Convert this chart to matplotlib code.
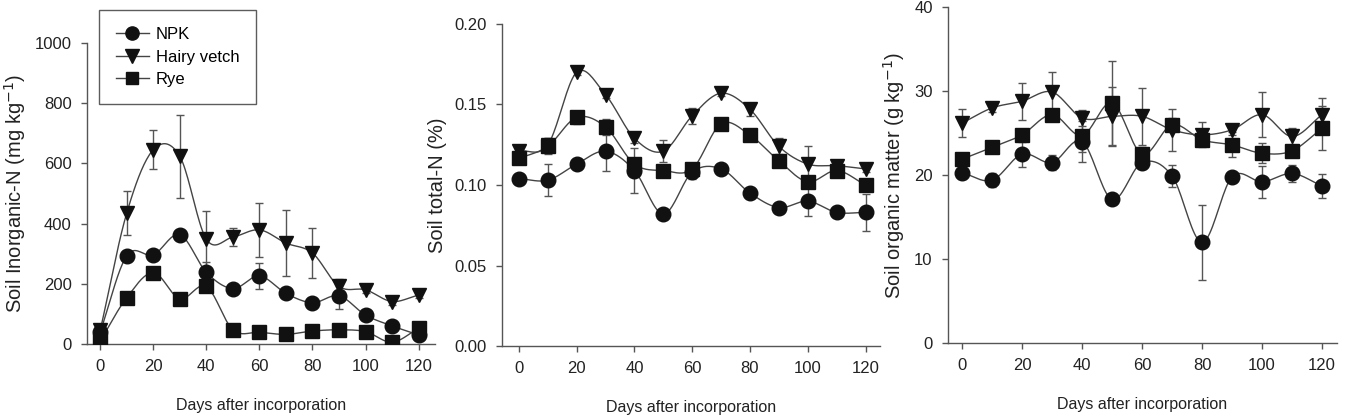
import matplotlib
matplotlib.use("Agg")
import matplotlib.pyplot as plt
import numpy as np

plt.rcParams['font.family'] = ['Liberation Sans', 'DejaVu Sans']

days = [0, 10, 20, 30, 40, 50, 60, 70, 80, 90, 100, 110, 120]
labels = ['NPK', 'Hairy vetch', 'Rye']

# soil inorganic-N (mg kg-1)
inorg_npk = [40, 293, 296, 363, 238, 184, 226, 168, 137, 160, 96, 60, 30]
inorg_npk_err = [10, 15, 15, 15, 35, 12, 43, 15, 12, 45, 12, 10, 8]
inorg_hv = [45, 435, 645, 623, 348, 355, 379, 335, 302, 191, 180, 141, 163]
inorg_hv_err = [10, 72, 65, 138, 95, 30, 90, 110, 83, 25, 10, 10, 10]
inorg_rye = [10, 154, 237, 150, 191, 47, 39, 32, 43, 47, 41, 6, 52]
inorg_rye_err = [5, 10, 15, 10, 12, 8, 6, 6, 6, 6, 6, 5, 6]

# soil total-N (%)
totn_npk = [0.104, 0.103, 0.113, 0.121, 0.109, 0.082, 0.108, 0.110, 0.095, 0.086, 0.090, 0.083, 0.083]
totn_npk_err = [0.003, 0.010, 0.003, 0.0125, 0.014, 0.002, 0.004, 0.002, 0.002, 0.002, 0.009, 0.002, 0.0115]
totn_hv = [0.121, 0.125, 0.170, 0.156, 0.129, 0.121, 0.143, 0.157, 0.147, 0.124, 0.113, 0.112, 0.110]
totn_hv_err = [0.004, 0.004, 0.002, 0.002, 0.003, 0.007, 0.005, 0.002, 0.004, 0.005, 0.011, 0.002, 0.002]
totn_rye = [0.1165, 0.124, 0.142, 0.136, 0.113, 0.109, 0.110, 0.138, 0.131, 0.115, 0.102, 0.109, 0.100]
totn_rye_err = [0.003, 0.005, 0.004, 0.005, 0.003, 0.002, 0.003, 0.002, 0.003, 0.003, 0.003, 0.002, 0.003]

# soil organic matter (g kg-1)
som_npk = [20.3, 19.4, 22.5, 21.5, 24.0, 17.1, 21.5, 19.9, 12.0, 19.8, 19.2, 20.2, 18.7]
som_npk_err = [0.8, 0.8, 1.5, 0.9, 2.4, 0.4, 0.8, 1.3, 4.5, 0.6, 1.9, 1.0, 1.4]
som_hv = [26.2, 28.0, 28.8, 29.9, 26.8, 27.0, 27.0, 25.4, 24.8, 25.4, 27.2, 24.6, 27.2]
som_hv_err = [1.7, 0.5, 2.2, 2.4, 1.0, 3.5, 3.4, 2.5, 1.5, 0.6, 2.7, 1.0, 2.0]
som_rye = [21.9, 23.3, 24.8, 27.2, 24.7, 28.6, 22.5, 26.0, 24.2, 23.6, 22.6, 22.9, 25.6]
som_rye_err = [0.6, 0.5, 0.6, 0.6, 2.0, 5.0, 0.8, 0.8, 0.6, 1.5, 1.2, 0.6, 2.6]


def smooth(x, y, n=20):
    # catmull-rom style curve through the points, just for the line shape
    x = np.asarray(x, float)
    y = np.asarray(y, float)
    m = np.gradient(y, x)
    xs, ys = [], []
    for i in range(len(x) - 1):
        h = x[i + 1] - x[i]
        t = np.linspace(0, 1, n, endpoint=False)
        h00 = 2 * t**3 - 3 * t**2 + 1
        h10 = t**3 - 2 * t**2 + t
        h01 = -2 * t**3 + 3 * t**2
        h11 = t**3 - t**2
        xs.append(x[i] + t * h)
        ys.append(h00 * y[i] + h10 * h * m[i] + h01 * y[i + 1] + h11 * h * m[i + 1])
    xs.append([x[-1]])
    ys.append([y[-1]])
    return np.concatenate(xs), np.concatenate(ys)


markers = ['o', 'v', 's']
msizes = [10.5, 10.5, 9.5]
lc = '#444444'
mc = '#111111'
tc = '#222222'

fig = plt.figure(figsize=(13.63, 4.2), dpi=100)
ax1 = fig.add_axes([0.0638, 0.181, 0.255, 0.717])
ax2 = fig.add_axes([0.368, 0.176, 0.2776, 0.767])
ax3 = fig.add_axes([0.6955, 0.183, 0.2855, 0.800])

panels = [
    (ax1, [(inorg_npk, inorg_npk_err), (inorg_hv, inorg_hv_err), (inorg_rye, inorg_rye_err)],
     (0, 1000), [0, 200, 400, 600, 800, 1000], 'Soil Inorganic-N (mg kg$^{-1}$)', (-5, 126), None),
    (ax2, [(totn_npk, totn_npk_err), (totn_hv, totn_hv_err), (totn_rye, totn_rye_err)],
     (0, 0.20), [0, 0.05, 0.10, 0.15, 0.20], 'Soil total-N (%)', (-6, 125), '%.2f'),
    (ax3, [(som_npk, som_npk_err), (som_hv, som_hv_err), (som_rye, som_rye_err)],
     (0, 40), [0, 10, 20, 30, 40], 'Soil organic matter (g kg$^{-1}$)', (-4.7, 125), None),
]

for ax, series, ylim, yticks, ylab, xlim, fmt in panels:
    for k, (vals, errs) in enumerate(series):
        ax.errorbar(days, vals, yerr=errs, fmt='none', ecolor='#555555', elinewidth=1,
                    capsize=3, capthick=1, zorder=2)
        sx, sy = smooth(days, vals)
        ax.plot(sx, sy, color=lc, lw=1, zorder=3)
        ax.plot(days, vals, linestyle='none', marker=markers[k], markersize=msizes[k],
                color=mc, zorder=4)
    ax.set_xlim(*xlim)
    ax.set_ylim(*ylim)
    ax.set_xticks([0, 20, 40, 60, 80, 100, 120])
    ax.set_yticks(yticks)
    if fmt:
        ax.set_yticklabels([fmt % v for v in yticks])
    ax.spines['top'].set_visible(False)
    ax.spines['right'].set_visible(False)
    for s in ['left', 'bottom']:
        ax.spines[s].set_color('#555555')
        ax.spines[s].set_linewidth(1)
    ax.tick_params(direction='out', length=4, width=1, color='#555555',
                   labelsize=12, labelcolor=tc, pad=7)
    ax.set_ylabel(ylab, fontsize=14.5, color=tc, labelpad=5)
    ax.set_xlabel('Days after incorporation', fontsize=11.5, color=tc, labelpad=17)

# legend handles
handles = []
for k in range(3):
    h, = ax1.plot([], [], color=lc, lw=1, marker=markers[k], markersize=msizes[k] - 1,
                  markerfacecolor=mc, markeredgecolor=mc)
    handles.append(h)
leg = fig.legend(handles, labels, loc='upper left', bbox_to_anchor=(0.0726, 0.975),
                 fontsize=12, frameon=True, fancybox=False, handlelength=2.0,
                 borderpad=1.0, labelspacing=0.45, handletextpad=0.4, borderaxespad=0)
leg.get_frame().set_edgecolor('#333333')
leg.get_frame().set_linewidth(1)

fig.savefig('out.png', dpi=100)
